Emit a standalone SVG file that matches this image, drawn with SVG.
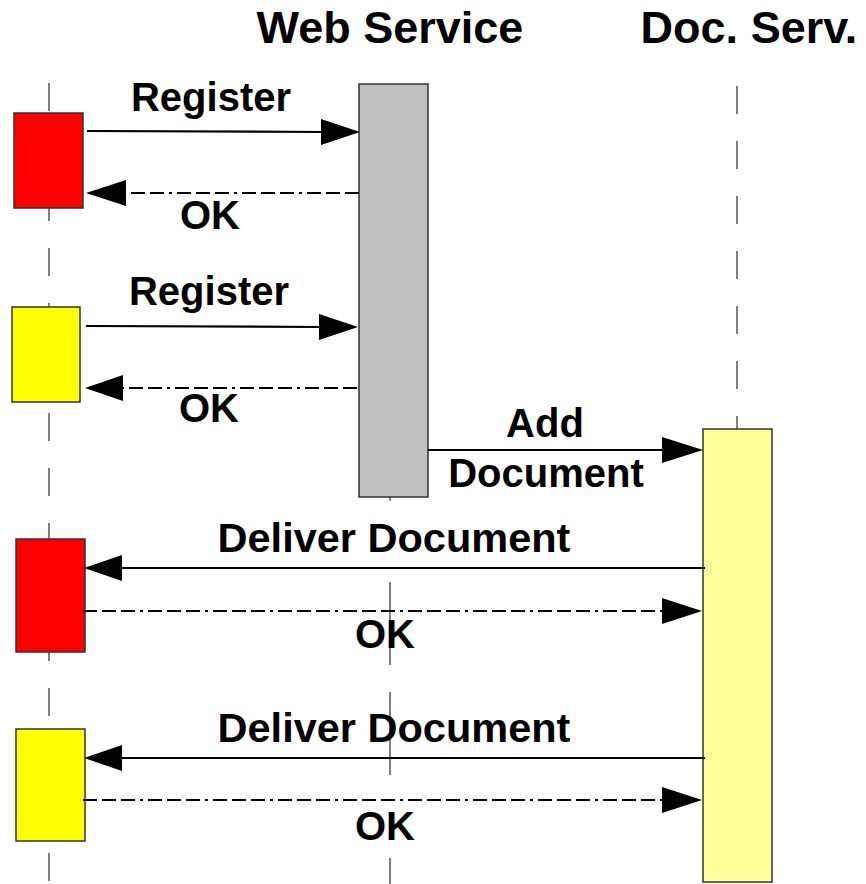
<svg xmlns="http://www.w3.org/2000/svg" width="866" height="884" viewBox="0 0 866 884">
  <style>
    .lifeline { stroke: #808080; stroke-width: 2; fill: none; }
    .dashed-life { stroke-dasharray: 28 27; }
    .box { stroke: #333333; stroke-width: 1.5; }
    .msg { stroke: #000000; stroke-width: 2.2; fill: none; }
    .reply { stroke: #000000; stroke-width: 2.2; fill: none; stroke-dasharray: 14 5 14 5 14 5 3 5; }
    .head { fill: #000000; }
    .title { font-family: "Liberation Sans", Arial, sans-serif; font-weight: bold; font-size: 45px; fill: #000; text-anchor: middle; }
    .label { font-family: "Liberation Sans", Arial, sans-serif; font-weight: bold; font-size: 40px; fill: #000; text-anchor: middle; }
    .label-wide { font-family: "Liberation Sans", Arial, sans-serif; font-weight: bold; font-size: 41.5px; fill: #000; text-anchor: middle; }
  </style>

  <rect width="866" height="884" fill="#ffffff"/>

  <!-- lifelines -->
  <g id="lifelines">
    <line class="lifeline dashed-life" x1="49" y1="83" x2="49" y2="884"/>
    <line class="lifeline dashed-life" x1="737" y1="86" x2="737" y2="429"/>
    <line class="lifeline" x1="390" y1="497" x2="390" y2="501"/>
    <line class="lifeline" x1="390" y1="582" x2="390" y2="665"/>
    <line class="lifeline" x1="390" y1="692" x2="390" y2="775"/>
    <line class="lifeline" x1="390" y1="858" x2="390" y2="884"/>
  </g>

  <!-- participant headings -->
  <g id="heading-web-service">
    <text class="title" x="390" y="43">Web Service</text>
  </g>
  <g id="heading-doc-server">
    <text class="title" x="749" y="43">Doc. Serv.</text>
  </g>

  <!-- activation boxes -->
  <g id="web-service">
    <rect class="box" x="359" y="84" width="69" height="413" fill="#c0c0c0"/>
  </g>
  <g id="doc-server">
    <rect class="box" x="703" y="429" width="69" height="453" fill="#ffff99"/>
  </g>
  <g id="client-red-1">
    <rect class="box" x="14" y="113" width="69" height="95" fill="#ff0000"/>
  </g>
  <g id="client-yellow-1">
    <rect class="box" x="12" y="307" width="68" height="95" fill="#ffff00"/>
  </g>
  <g id="client-red-2">
    <rect class="box" x="16" y="539" width="69" height="113" fill="#ff0000"/>
  </g>
  <g id="client-yellow-2">
    <rect class="box" x="16" y="729" width="69" height="112" fill="#ffff00"/>
  </g>

  <!-- messages -->
  <g id="connectors">
    <!-- Register (red client) -->
    <line class="msg" x1="87" y1="131" x2="324" y2="132"/>
    <polygon class="head" points="360,132 321,119 321,145"/>
    <!-- OK -->
    <line class="reply" x1="359" y1="193" x2="124" y2="193"/>
    <polygon class="head" points="86,193 126,180 126,206"/>

    <!-- Register (yellow client) -->
    <line class="msg" x1="86" y1="326" x2="321" y2="327"/>
    <polygon class="head" points="358,327 319,314 319,340"/>
    <!-- OK -->
    <line class="reply" x1="357" y1="388" x2="121" y2="388"/>
    <polygon class="head" points="85,388 123,375 123,401"/>

    <!-- Add Document -->
    <line class="msg" x1="428" y1="450" x2="664" y2="450"/>
    <polygon class="head" points="703,450 662,437 662,463"/>

    <!-- Deliver Document (red client) -->
    <line class="msg" x1="705" y1="568" x2="120" y2="568"/>
    <polygon class="head" points="84,568 122,555 122,581"/>
    <!-- OK -->
    <line class="reply" x1="83" y1="611" x2="664" y2="611"/>
    <polygon class="head" points="702,611 662,598 662,624"/>

    <!-- Deliver Document (yellow client) -->
    <line class="msg" x1="705" y1="758" x2="120" y2="758"/>
    <polygon class="head" points="84,758 122,745 122,771"/>
    <!-- OK -->
    <line class="reply" x1="83" y1="800" x2="664" y2="800"/>
    <polygon class="head" points="702,800 662,787 662,813"/>
  </g>

  <!-- message labels -->
  <g id="labels">
    <text class="label" x="211" y="111">Register</text>
    <text class="label" x="210" y="229">OK</text>
    <text class="label" x="209" y="305">Register</text>
    <text class="label" x="209" y="422">OK</text>
    <text class="label" x="545" y="437">Add</text>
    <text class="label" x="546" y="487">Document</text>
    <text class="label-wide" x="394" y="552">Deliver Document</text>
    <text class="label" x="385" y="648">OK</text>
    <text class="label-wide" x="394" y="742">Deliver Document</text>
    <text class="label" x="385" y="840">OK</text>
  </g>
</svg>
